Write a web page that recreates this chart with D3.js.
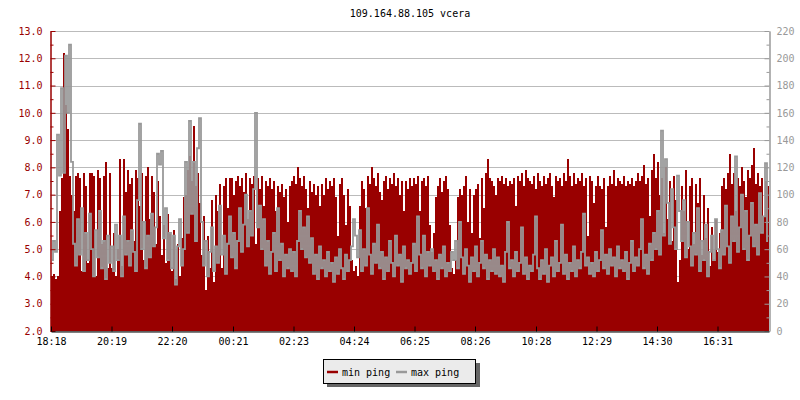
<!DOCTYPE html>
<html><head><meta charset="utf-8">
<script src="https://cdn.jsdelivr.net/npm/d3@7"></script>
<style>
body{margin:0;background:#fff}
svg{display:block}
text{font-family:"DejaVu Sans Mono",monospace;font-size:10px}
</style>
</head><body><svg id="c" width="800" height="400"></svg>
<script>
const title = "109.164.88.105 vcera";
const seriesNames = ["min ping", "max ping"];
const tickLabels = ["18:18","20:19","22:20","00:21","02:23","04:24","06:25","08:26","10:28","12:29","14:30","16:31"];
const tickMinutes = [0,121,242,364,485,606,727,848,970,1091,1212,1333];
const sampleMinutes = 4;
const spanMinutes = 1436;
const leftTicks = [2,3,4,5,6,7,8,9,10,11,12,13];
const leftMinor = [2.5,3.5,4.5,5.5,6.5,7.5,8.5,9.5,10.5,11.5,12.5];
const rightTicks = [0,20,40,60,80,100,120,140,160,180,200,220];
const rightMinor = [10,30,50,70,90,110,130,150,170,190,210];

// min ping (left axis), one value per sample
const minPing = [
4.0,4.1,3.9,4.0,6.4,7.6,12.2,10.3,9.4,7.7, 7.0,6.4,7.7,7.8,7.6,4.2,7.8,7.3,4.5,7.8, 7.8,7.7,4.0,7.9,7.6,5.2,7.7,8.2,4.3,7.8,
4.3,5.6,4.0,5.0,8.3,4.4,8.3,7.1,7.9,7.4, 7.6,5.3,7.9,7.6,6.6,7.8,4.6,7.7,8.0,6.1, 7.7,7.1,5.2,7.5,6.2,4.8,5.9,4.5,6.3,5.6,
4.2,5.7,3.9,5.2,4.0,5.4,6.9,7.0,7.9,8.4, 7.5,9.5,7.3,7.8,6.7,4.8,6.2,3.5,5.5,4.3, 6.8,3.8,7.0,6.4,7.4,4.3,7.3,7.6,6.5,7.6,
7.6,7.0,7.5,7.7,7.3,7.6,7.1,7.8,6.1,7.6, 7.4,7.7,5.2,7.6,7.2,7.7,6.6,7.5,7.3,7.6, 7.2,7.5,6.4,7.3,7.1,7.4,6.9,7.2,6.0,7.3,
7.5,7.7,7.4,8.0,7.6,7.3,7.7,7.2,6.5,7.5, 7.1,7.4,7.0,7.3,6.6,7.4,7.0,7.6,7.2,7.5, 7.3,7.6,6.9,5.5,7.4,7.6,7.0,5.9,7.2,6.6,
4.6,4.2,4.4,4.0,6.6,7.5,7.2,6.5,7.7,7.4, 8.0,7.6,7.3,7.8,7.1,6.8,7.5,7.7,7.2,7.6, 7.4,7.8,7.3,7.6,7.0,7.5,6.4,7.5,7.2,7.6,
7.3,7.6,7.4,7.7,6.4,7.5,7.6,7.3,7.7,5.9, 4.9,5.6,6.9,7.3,7.6,7.1,7.5,7.7,7.2,5.9, 4.3,4.1,4.6,6.9,7.2,7.0,7.3,7.7,6.0,7.2,
5.6,7.0,7.2,7.4,5.4,7.6,6.5,7.8,8.3,7.6, 7.5,7.3,7.0,7.6,7.5,7.7,7.4,7.6,7.3,7.5, 7.4,7.6,6.6,7.7,7.5,7.8,7.3,7.9,7.6,7.5,
7.4,7.7,7.2,7.8,7.5,7.3,7.7,7.4,7.6,7.8, 7.3,6.9,7.7,7.5,7.6,7.3,7.8,7.5,8.3,7.7, 7.3,7.8,7.4,7.6,7.5,7.8,7.3,7.6,5.5,7.7,
7.5,6.7,7.3,7.7,7.3,7.2,7.6,5.8,7.3,7.7, 7.4,7.9,7.3,7.6,7.5,7.4,7.7,7.3,7.5,7.4, 7.6,7.3,7.5,7.8,7.5,7.7,8.1,7.4,7.6,6.2,
7.9,8.5,7.6,8.2,7.0,7.6,5.6,8.0,6.1,7.5, 5.3,7.7,6.8,3.8,4.6,7.3,6.4,7.9,5.0,7.3, 7.6,5.2,7.4,6.7,7.6,4.8,7.0,5.4,6.5,4.4,
5.8,4.6,6.1,4.9,5.6,7.3,7.6,7.2,7.8,8.5, 7.4,7.8,6.4,7.6,7.3,8.0,7.5,6.9,7.9,7.6, 8.1,8.7,7.4,7.8,7.3,7.6,6.2,7.5,7.3
];

// max ping (right axis), one value per sample
const maxPing = [
52,66,58,144,114,178,116,202,160,210, 124,64,48,82,56,90,44,72,52,86, 60,40,74,54,88,46,66,38,70,50,
62,44,78,52,70,40,84,56,66,48, 74,58,44,96,152,60,80,46,70,54, 86,62,76,130,122,132,68,90,52,72,
46,70,34,62,82,48,60,124,72,154, 86,124,66,134,156,80,48,66,40,58, 76,44,62,50,92,56,70,42,64,84,
54,72,46,66,90,58,78,100,62,88, 70,104,160,76,92,60,82,48,66,42, 58,72,44,90,52,64,40,56,46,60,
44,58,40,66,88,60,76,54,84,50, 68,42,56,38,62,46,52,40,58,44, 50,36,54,42,60,46,38,56,44,52,
62,82,70,54,74,44,60,48,90,56, 42,64,50,78,46,58,38,54,44,66, 50,40,70,48,56,36,62,46,52,42,
50,64,44,84,56,46,70,40,58,48, 60,44,52,38,56,46,62,40,50,44, 58,52,66,46,80,54,42,60,48,36,
54,44,62,40,50,66,46,56,38,52, 44,60,42,54,40,48,36,58,80,46, 52,40,58,44,50,76,42,54,38,48,
44,56,84,46,38,52,42,60,36,48, 54,40,66,44,50,78,42,56,38,50, 44,62,40,52,46,58,86,48,54,42,
50,40,58,44,52,74,46,56,42,60, 48,54,40,62,46,52,44,58,38,50, 66,44,54,48,60,82,46,56,42,64,
52,72,60,88,56,147,70,126,94,64, 104,76,60,114,88,66,96,54,80,62, 48,72,56,90,44,66,52,78,40,58,
70,52,82,60,46,74,56,92,62,50, 84,66,128,58,76,100,60,88,52,70, 94,62,78,56,101,72,84,123,66
];

const RED = "#990000", GRAY = "#999999", FONT = "DejaVu Sans Mono, monospace";
const svg = d3.select("#c");
const m = {l: 51, r: 769, t: 31, b: 331};
const x = d3.scaleLinear().domain([0, spanMinutes]).range([m.l, m.r]);
const yL = d3.scaleLinear().domain([2, 13]).range([m.b, m.t]);
const yR = d3.scaleLinear().domain([0, 220]).range([m.b, m.t]);

// title
svg.append("text").attr("x", (m.l + m.r) / 2).attr("y", 17).attr("text-anchor", "middle")
  .attr("fill", "#000").text(title);

// grid
svg.append("g").selectAll("line").data(leftTicks).join("line")
  .attr("x1", m.l).attr("x2", m.r)
  .attr("y1", d => Math.round(yL(d)) + 0.5).attr("y2", d => Math.round(yL(d)) + 0.5)
  .attr("stroke", "#bbbbbb");

// min ping bars
svg.append("g").selectAll("rect").data(minPing).join("rect")
  .attr("x", (d, i) => x(i * sampleMinutes))
  .attr("width", (d, i) => x((i + 1) * sampleMinutes) - x(i * sampleMinutes))
  .attr("y", d => yL(d))
  .attr("height", d => yL(2) - yL(d))
  .attr("fill", RED).attr("shape-rendering", "crispEdges");

// max ping line
const line = d3.line().curve(d3.curveStep)
  .x((d, i) => x(i * sampleMinutes + sampleMinutes / 2))
  .y(d => yR(d));
svg.append("path").datum(maxPing).attr("d", line)
  .attr("fill", "none").attr("stroke", GRAY).attr("stroke-width", 1.8);

function styleAxis(g, color) {
  g.attr("font-family", FONT).attr("font-size", 10);
  g.selectAll("path.domain").attr("stroke", color);
  g.selectAll(".tick line").attr("stroke", color);
  g.selectAll(".tick text").attr("fill", color);
}

// left axis
const gl = svg.append("g").attr("transform", `translate(${m.l - 0.5},0)`)
  .call(d3.axisLeft(yL).tickValues(leftTicks).tickFormat(d3.format(".1f")).tickSize(-5).tickSizeOuter(0).tickPadding(8));
styleAxis(gl, RED);
const glm = svg.append("g").attr("transform", `translate(${m.l - 0.5},0)`)
  .call(d3.axisLeft(yL).tickValues(leftMinor).tickFormat("").tickSize(-3).tickSizeOuter(0));
styleAxis(glm, RED);

// right axis
const gr = svg.append("g").attr("transform", `translate(${m.r + 0.5},0)`)
  .call(d3.axisRight(yR).tickValues(rightTicks).tickSize(-5).tickSizeOuter(0).tickPadding(7));
styleAxis(gr, GRAY);
const grm = svg.append("g").attr("transform", `translate(${m.r + 0.5},0)`)
  .call(d3.axisRight(yR).tickValues(rightMinor).tickFormat("").tickSize(-3).tickSizeOuter(0));
styleAxis(grm, GRAY);

// bottom axis
const gb = svg.append("g").attr("transform", `translate(0,${m.b + 0.5})`)
  .call(d3.axisBottom(x).tickValues(tickMinutes).tickFormat((d, i) => tickLabels[i]).tickSize(-5).tickSizeOuter(0).tickPadding(6));
styleAxis(gb, "#000");

// legend
const lg = svg.append("g");
lg.append("rect").attr("x", 327).attr("y", 363).attr("width", 153).attr("height", 24).attr("fill", "#666666");
lg.append("rect").attr("x", 323.5).attr("y", 359.5).attr("width", 152).attr("height", 24)
  .attr("fill", "#ebebeb").attr("stroke", "#000");
const items = [{name: seriesNames[0], color: RED, x: 327}, {name: seriesNames[1], color: GRAY, x: 396}];
items.forEach(it => {
  lg.append("line").attr("x1", it.x).attr("x2", it.x + 11).attr("y1", 372).attr("y2", 372)
    .attr("stroke", it.color).attr("stroke-width", 2.5);
  lg.append("text").attr("x", it.x + 15).attr("y", 375.5).attr("fill", "#000").text(it.name);
});
</script>
</body></html>
